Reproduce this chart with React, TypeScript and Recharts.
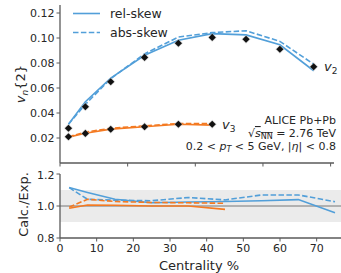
import React from 'react';
import { ComposedChart, Line, Scatter, XAxis, YAxis, ReferenceArea, ReferenceLine } from 'recharts';

const centralityV2 = [2.5, 7.5, 15, 25, 35, 45, 55, 65, 75];
const centralityV3 = [2.5, 7.5, 15, 25, 35, 45];

const expV2 = [0.0278, 0.045, 0.065, 0.0845, 0.0958, 0.1005, 0.099, 0.091, 0.077];
const expV3 = [0.021, 0.0237, 0.027, 0.029, 0.031, 0.031];

const relV2 = [0.031, 0.049, 0.0679, 0.0862, 0.0982, 0.1035, 0.1025, 0.0946, 0.0738];
const absV2 = [0.031, 0.0469, 0.0675, 0.0873, 0.1008, 0.1043, 0.1058, 0.0973, 0.0791];
const relV3 = [0.0207, 0.0238, 0.0271, 0.029, 0.031, 0.0303];
const absV3 = [0.0209, 0.0247, 0.0278, 0.0297, 0.0316, 0.0315];

const ratioRelV2 = [1.115, 1.085, 1.042, 1.02, 1.025, 1.028, 1.033, 1.04, 0.958];
const ratioAbsV2 = [1.115, 1.042, 1.036, 1.033, 1.053, 1.038, 1.069, 1.069, 1.027];
const ratioRelV3 = [0.986, 1.006, 1.005, 1.0, 1.0, 0.979];
const ratioAbsV3 = [0.993, 1.042, 1.028, 1.022, 1.02, 1.017];

const topXTicks = [0, 20, 40, 60, 80];
const topYTicks = [0, 0.02, 0.04, 0.06, 0.08, 0.1, 0.12];
const bottomXTicks = [0, 10, 20, 30, 40, 50, 60, 70];
const bottomYTicks = [0.8, 1.0, 1.2];

const BLUE = '#529fd9';
const ORANGE = '#f47a22';
const TEXT = '#262626';
const AXIS = '#5a5a5a';
const FONT = 'DejaVu Sans';

const zip = (xs: number[], ys: number[]) => xs.map((x, i) => ({ x, y: ys[i] }));

const Diamond = (props: any) => {
  const { cx, cy } = props;
  if (cx == null || cy == null) return <g />;
  const r = 3.6;
  return (
    <g>
      <path d={`M${cx},${cy - r - 1} L${cx + r + 1},${cy} L${cx},${cy + r + 1} L${cx - r - 1},${cy} Z`} fill="#bbb" opacity={0.5} />
      <path d={`M${cx},${cy - r} L${cx + r},${cy} L${cx},${cy + r} L${cx - r},${cy} Z`} fill="#111" />
    </g>
  );
};

const makeYTick = (fmt: (v: number) => string, nudge: (v: number) => number) => (props: any) => {
  const { x, y, payload } = props;
  const v = payload.value as number;
  return (
    <text x={x} y={y + nudge(v)} dy="0.355em" textAnchor="end" fontSize={11} fill={TEXT} fontFamily={FONT}>
      {fmt(v)}
    </text>
  );
};

const TopYTick = makeYTick((v) => v.toFixed(2), (v) => (v === 0 ? -1 : 0));
const BottomYTick = makeYTick((v) => v.toFixed(1), (v) => (v > 1.1 ? 1 : 0));

const tickStyle = { fontSize: 11, fill: TEXT, fontFamily: FONT };

export default function App() {
  return (
    <div style={{ position: 'absolute', left: 0, top: 0, width: 341, height: 273, overflow: 'hidden', background: '#fff' }}>
      <div style={{ position: 'absolute', left: 0, top: 0 }}>
        <ComposedChart width={341} height={169} margin={{ top: 5, right: 7, left: 0, bottom: 0 }}>
          <XAxis
            type="number"
            dataKey="x"
            domain={[0, 81]}
            ticks={topXTicks}
            allowDataOverflow
            tick={() => <g />}
            tickSize={3.5}
            height={6}
            axisLine={{ stroke: AXIS, strokeWidth: 1.3 }}
            tickLine={{ stroke: AXIS, strokeWidth: 1 }}
          />
          <YAxis
            type="number"
            domain={[0, 0.1264]}
            ticks={topYTicks}
            allowDataOverflow
            width={60}
            tickSize={3.5}
            tickMargin={2}
            tick={TopYTick}
            axisLine={{ stroke: AXIS, strokeWidth: 1.3 }}
            tickLine={{ stroke: AXIS, strokeWidth: 1 }}
          />
          <Line data={zip(centralityV2, absV2)} dataKey="y" stroke={BLUE} strokeWidth={1.6} strokeDasharray="5.5 2.4" dot={false} isAnimationActive={false} />
          <Line data={zip(centralityV2, relV2)} dataKey="y" stroke={BLUE} strokeWidth={1.6} dot={false} isAnimationActive={false} />
          <Line data={zip(centralityV3, absV3)} dataKey="y" stroke={ORANGE} strokeWidth={1.6} strokeDasharray="5.5 2.4" dot={false} isAnimationActive={false} />
          <Line data={zip(centralityV3, relV3)} dataKey="y" stroke={ORANGE} strokeWidth={1.6} dot={false} isAnimationActive={false} />
          <Scatter data={zip(centralityV2, expV2)} dataKey="y" shape={Diamond} isAnimationActive={false} />
          <Scatter data={zip(centralityV3, expV3)} dataKey="y" shape={Diamond} isAnimationActive={false} />
        </ComposedChart>
      </div>
      <div style={{ position: 'absolute', left: 0, top: 0 }}>
        <ComposedChart width={346} height={273} margin={{ top: 174, right: 0, left: 0, bottom: 0 }}>
          <XAxis
            type="number"
            dataKey="x"
            domain={[0, 78]}
            ticks={bottomXTicks}
            allowDataOverflow
            height={35}
            tickSize={3.5}
            tickMargin={3}
            tick={tickStyle}
            axisLine={{ stroke: AXIS, strokeWidth: 1.3 }}
            tickLine={{ stroke: AXIS, strokeWidth: 1 }}
          />
          <YAxis
            type="number"
            domain={[0.8, 1.2]}
            ticks={bottomYTicks}
            allowDataOverflow
            width={60}
            tickSize={3.5}
            tickMargin={2}
            tick={BottomYTick}
            axisLine={{ stroke: AXIS, strokeWidth: 1.3 }}
            tickLine={{ stroke: AXIS, strokeWidth: 1 }}
          />
          <ReferenceArea y1={0.9} y2={1.1} x1={0} x2={78} fill="#ebebeb" fillOpacity={1} stroke="none" ifOverflow="hidden" />
          <ReferenceLine y={1} stroke="#777" strokeWidth={1} />
          <Line data={zip(centralityV2, ratioAbsV2)} dataKey="y" stroke={BLUE} strokeWidth={1.6} strokeDasharray="5.5 2.4" dot={false} isAnimationActive={false} />
          <Line data={zip(centralityV2, ratioRelV2)} dataKey="y" stroke={BLUE} strokeWidth={1.6} dot={false} isAnimationActive={false} />
          <Line data={zip(centralityV3, ratioAbsV3)} dataKey="y" stroke={ORANGE} strokeWidth={1.6} strokeDasharray="5.5 2.4" dot={false} isAnimationActive={false} />
          <Line data={zip(centralityV3, ratioRelV3)} dataKey="y" stroke={ORANGE} strokeWidth={1.6} dot={false} isAnimationActive={false} />
        </ComposedChart>
      </div>
      <svg width={341} height={273} style={{ position: 'absolute', left: 0, top: 0, pointerEvents: 'none' }} fontFamily={FONT} fill={TEXT}>
        {/* legend */}
        <line x1={73} y1={13.5} x2={100} y2={13.5} stroke={BLUE} strokeWidth={1.6} />
        <text x={110} y={18} fontSize={12.5}>rel-skew</text>
        <line x1={73} y1={32.5} x2={100} y2={32.5} stroke={BLUE} strokeWidth={1.6} strokeDasharray="5.5 2.4" />
        <text x={110} y={37} fontSize={12.5}>abs-skew</text>

        {/* y labels */}
        <text transform="rotate(-90 25 84)" x={25} y={84} fontSize={13} textAnchor="middle">
          <tspan fontStyle="italic">v</tspan>
          <tspan fontStyle="italic" fontSize={9} dy={3}>n</tspan>
          <tspan dy={-3}>{'{2}'}</tspan>
        </text>
        <text transform="rotate(-90 28 204.5)" x={28} y={204.5} fontSize={13} textAnchor="middle">Calc./Exp.</text>

        {/* x label */}
        <text x={199} y={269.5} fontSize={13} textAnchor="middle">Centrality %</text>

        {/* series annotations */}
        <text x={324} y={70.5} fontSize={13}>
          <tspan fontStyle="italic">v</tspan>
          <tspan fontSize={9} dy={3}>2</tspan>
        </text>
        <text x={222} y={128.5} fontSize={13}>
          <tspan fontStyle="italic">v</tspan>
          <tspan fontSize={9} dy={3}>3</tspan>
        </text>

        {/* info text */}
        <text x={336} y={123.5} fontSize={11} textAnchor="end">ALICE Pb+Pb</text>
        <text x={336} y={137} fontSize={11} textAnchor="end">
          <tspan>√</tspan>
          <tspan fontStyle="italic" textDecoration="overline">s</tspan>
          <tspan fontSize={8} dy={2} textDecoration="overline">NN</tspan>
          <tspan dy={-2}> = 2.76 TeV</tspan>
        </text>
        <text x={336} y={150} fontSize={11} textAnchor="end">
          <tspan>{'0.2 < '}</tspan>
          <tspan fontStyle="italic">p</tspan>
          <tspan fontStyle="italic" fontSize={8} dy={2}>T</tspan>
          <tspan dy={-2}>{' < 5 GeV, |'}</tspan>
          <tspan fontStyle="italic">η</tspan>
          <tspan>{'| < 0.8'}</tspan>
        </text>
      </svg>
    </div>
  );
}
